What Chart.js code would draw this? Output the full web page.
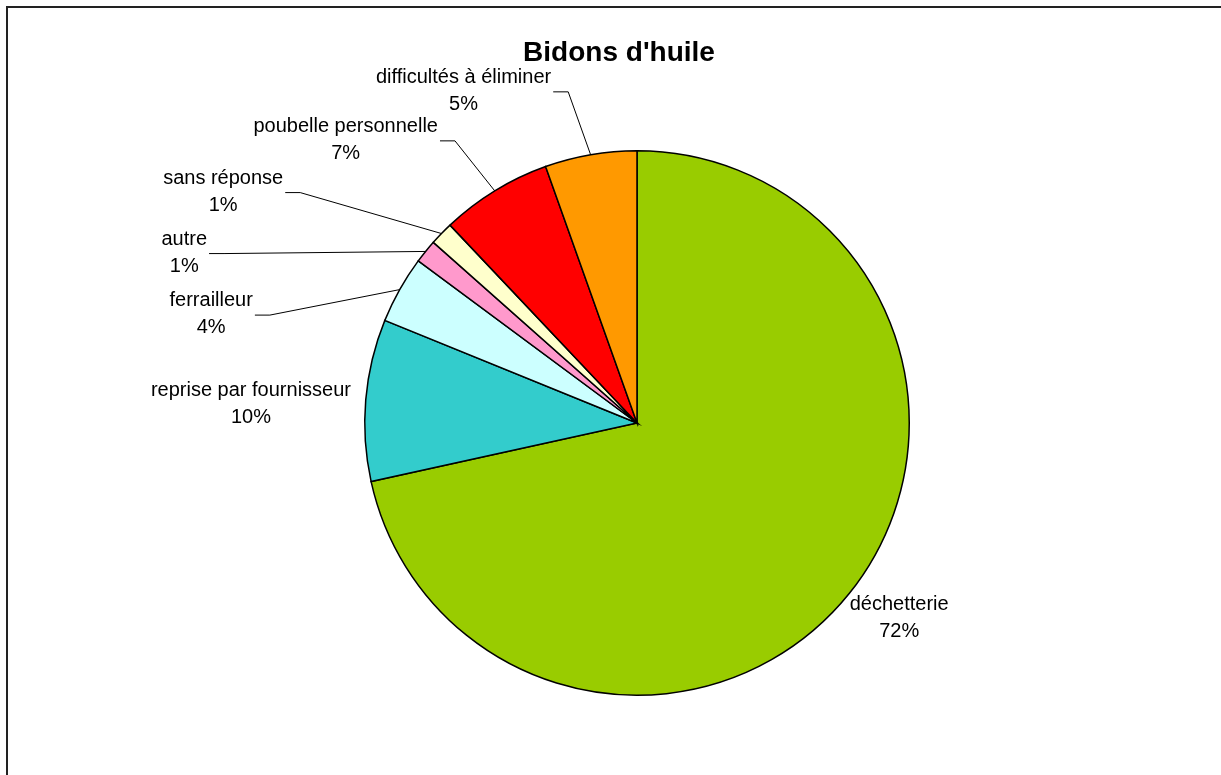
<!DOCTYPE html>
<html>
<head>
<meta charset="utf-8">
<script src="https://cdn.jsdelivr.net/npm/chart.js@4/dist/chart.umd.min.js"></script>
<style>
  html, body { margin: 0; padding: 0; background: #fff; overflow: hidden; }
  #frame {
    position: absolute; left: 6px; top: 6px; width: 1400px; height: 1000px;
    border-top: 2px solid #222; border-left: 2px solid #222;
  }
  #wrap { position: absolute; left: 0; top: 0; width: 1221px; height: 775px; }
</style>
</head>
<body>
<div id="frame"></div>
<div id="wrap"><canvas id="pie"></canvas></div>
<script>
const chartTitle = "Bidons d'huile";
const categories = [
  "déchetterie",
  "reprise par fournisseur",
  "ferrailleur",
  "autre",
  "sans réponse",
  "poubelle personnelle",
  "difficultés à éliminer"
];
const shares = [71.55, 9.6, 4.0, 1.4, 1.4, 6.6, 5.45];
const sliceColors = ["#99CC00", "#33CCCC", "#CCFFFF", "#FF99CC", "#FFFFCC", "#FF0000", "#FF9900"];

// label block centres, in units of the pie radius, relative to the pie centre
const labelPos = [
  [0.963, 0.718],
  [-1.418, -0.07],
  [-1.564, -0.40],
  [-1.663, -0.626],
  [-1.52, -0.85],
  [-1.07, -1.04],
  [-0.637, -1.22]
];
const hasLeader = [false, false, true, true, true, true, true];

const FONT = '20px "Liberation Sans", Arial, sans-serif';

const labelPlugin = {
  id: "pieLabels",
  afterDatasetsDraw(chart) {
    const ctx = chart.ctx;
    const meta = chart.getDatasetMeta(0);
    const total = shares.reduce((a, b) => a + b, 0);
    ctx.save();
    ctx.font = FONT;
    ctx.fillStyle = "#000";
    ctx.textAlign = "center";
    ctx.textBaseline = "middle";
    meta.data.forEach((arc, i) => {
      const { x, y, outerRadius, startAngle, endAngle } =
        arc.getProps(["x", "y", "outerRadius", "startAngle", "endAngle"], true);
      const mid = (startAngle + endAngle) / 2;
      const ex = x + Math.cos(mid) * outerRadius;
      const ey = y + Math.sin(mid) * outerRadius;
      const lx = x + labelPos[i][0] * outerRadius;
      const ly = y + labelPos[i][1] * outerRadius;
      const pct = Math.round((shares[i] / total) * 100) + "%";
      ctx.fillText(categories[i], lx, ly - 13.5);
      ctx.fillText(pct, lx, ly + 13.5);

      if (hasLeader[i]) {
        const w = Math.max(ctx.measureText(categories[i]).width, ctx.measureText(pct).width);
        const sx = lx + w / 2 + 2;
        ctx.beginPath();
        ctx.moveTo(sx, ly + 1);
        ctx.lineTo(sx + 15, ly + 1);
        ctx.lineTo(ex, ey);
        ctx.lineWidth = 1;
        ctx.strokeStyle = "#000";
        ctx.stroke();
      }
    });

    // title
    ctx.font = 'bold 28px "Liberation Sans", Arial, sans-serif';
    ctx.textBaseline = "alphabetic";
    ctx.fillText(chartTitle, 619, 61);
    ctx.restore();
  }
};

new Chart(document.getElementById("pie"), {
  type: "pie",
  data: {
    labels: categories,
    datasets: [{
      data: shares,
      backgroundColor: sliceColors,
      borderColor: "#000",
      borderWidth: 1.5,
      hoverOffset: 0,
      borderJoinStyle: "miter"
    }]
  },
  options: {
    responsive: true,
    maintainAspectRatio: false,
    animation: false,
    layout: { padding: { left: 364, right: 311, top: 150, bottom: 79 } },
    plugins: {
      legend: { display: false },
      title: { display: false },
      tooltip: { enabled: false }
    },
    events: []
  },
  plugins: [labelPlugin]
});
</script>
</body>
</html>
